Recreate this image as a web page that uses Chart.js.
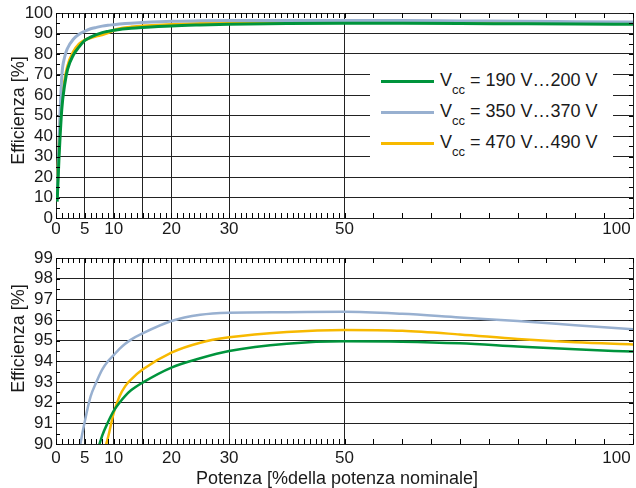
<!DOCTYPE html>
<html><head><meta charset="utf-8">
<script src="https://cdn.jsdelivr.net/npm/chart.js@4/dist/chart.umd.min.js"></script>
<style>
html,body{margin:0;padding:0;background:#fff;overflow:hidden;width:636px;height:488px;}
canvas{position:absolute;left:0;}
#c1{top:0}
#c2{top:244px}
#legend{position:absolute;left:370px;top:57px;width:243px;height:118px;background:#fff;font-family:"Liberation Sans",Arial,Helvetica,sans-serif;font-size:18px;color:#1a1a1a;}
.row{position:absolute;left:0;height:31px;line-height:31px;width:243px;white-space:nowrap;}
.swatch{position:absolute;left:11px;top:15px;width:53px;height:3px;}
.txt{position:absolute;left:70px;top:0;}
.txt sub{font-size:13px;vertical-align:baseline;position:relative;top:8px;}
</style></head><body>
<canvas id="c1" width="636" height="244"></canvas>
<canvas id="c2" width="636" height="244"></canvas>
<div id="legend"></div>
<script>
// ---- data ----
const loadPct    = [0.2, 0.5, 1, 1.5, 2, 3, 4, 5, 6, 7, 8, 9, 10, 11, 12, 13, 15, 20, 25, 30, 40, 50, 60, 70, 80, 90, 100];
const eff190_200 = [8, 28, 53, 65, 72.5, 79.5, 83.5, 86.6, 88.2, 89.45, 90.4, 91.05, 91.6, 92.0, 92.33, 92.6, 92.97, 93.7, 94.15, 94.5, 94.85, 94.97, 94.95, 94.87, 94.72, 94.58, 94.47];
const eff350_370 = [10, 36, 69, 78.5, 82.8, 87.2, 89.6, 91.1, 92.3, 93.0, 93.6, 94.0, 94.3, 94.6, 94.85, 95.05, 95.35, 95.95, 96.25, 96.35, 96.38, 96.4, 96.3, 96.12, 95.95, 95.75, 95.55];
const eff470_490 = [12, 36, 57, 67, 74, 81, 84.8, 86.8, 87.9, 88.7, 89.35, 90.3, 91.5, 92.3, 92.8, 93.12, 93.6, 94.42, 94.9, 95.16, 95.42, 95.52, 95.48, 95.3, 95.08, 94.92, 94.82];
const seriesLabels = ['Vcc = 190 V…200 V', 'Vcc = 350 V…370 V', 'Vcc = 470 V…490 V'];
const seriesColors = ['#00943c', '#98b0d0', '#f7b900'];
const xTickLabels = [0, 5, 10, 20, 30, 50, 100];
const xGridValues = [5, 10, 15, 20, 30, 50];
const xMinorTicks = [0,1,2,3,4,5,6,7,8,9,10,11,12,13,14,15,16,17,18,19,20,21,22,23,24,25,26,27,28,29,30,31,32,33,34,35,36,37,38,39,40,41,42,43,44,45,46,47,48,49,50,55,60,65,70,75,80,85,90,95,100];
const yTopTicks = [0,5,10,15,20,25,30,35,40,45,50,55,60,65,70,75,80,85,90,95,100];
const yBottomTicks = [90,90.5,91,91.5,92,92.5,93,93.5,94,94.5,95,95.5,96,96.5,97,97.5,98,98.5,99];
const yTitle = 'Efficienza [%]';
const xTitle = 'Potenza [%della potenza nominale]';

const FAMILY = '"Liberation Sans", Arial, Helvetica, sans-serif';
const DARK = '#222';
const TEXT = '#1a1a1a';
Chart.defaults.font.family = FAMILY;
Chart.defaults.color = TEXT;

const series = [eff190_200, eff350_370, eff470_490];

function makeDatasets(width) {
  return series.map((arr, i) => ({
    label: seriesLabels[i],
    data: loadPct.map((x, j) => ({x: x, y: arr[j]})),
    borderColor: seriesColors[i],
    backgroundColor: seriesColors[i],
    borderWidth: width,
    pointRadius: 0,
    fill: false,
    cubicInterpolationMode: 'monotone',
    clip: 0
  }));
}

function setTicks(list) {
  return s => { s.ticks = list.map(v => ({value: v})); };
}

function makeScales(c) {
  return {
    x: {
      type: 'linear', min: 0, max: 100, position: 'bottom', weight: 0,
      afterBuildTicks: setTicks(xMinorTicks),
      afterFit: s => { s.height = c.xHeight; s.paddingLeft = 0; s.paddingRight = 0; },
      ticks: {
        autoSkip: false, maxRotation: 0, minRotation: 0, padding: c.xPad,
        font: {size: 17, family: FAMILY}, color: TEXT,
        callback: v => xTickLabels.includes(v) ? (v === 100 ? '100       ' : String(v)) : ''
      },
      grid: {
        color: ctx => (ctx.tick && xGridValues.includes(ctx.tick.value)) ? DARK : 'rgba(0,0,0,0)',
        lineWidth: 1, drawTicks: false
      },
      border: {display: true, color: DARK, width: 1},
      title: c.xTitle ? {display: true, text: xTitle + '   ', font: {size: 18, family: FAMILY}, color: TEXT, padding: {top: 0, bottom: -2}} : {display: false}
    },
    xTop: {
      type: 'linear', min: 0, max: 100, position: 'top', weight: 0,
      afterFit: s => { s.height = 0; s.paddingLeft = 0; s.paddingRight = 0; },
      ticks: {display: false},
      grid: {display: false, drawTicks: false},
      border: {display: true, color: DARK, width: 1}
    },
    y: {
      type: 'linear', min: c.yMin, max: c.yMax, position: 'left', weight: 0,
      afterBuildTicks: setTicks(c.yTicks),
      afterFit: s => { s.width = 56; s.paddingTop = 0; s.paddingBottom = 0; },
      ticks: {
        autoSkip: false, padding: 3, font: {size: 17, family: FAMILY}, color: TEXT,
        callback: v => (Math.abs(v % c.yMajor) < 1e-9) ? String(v) : ''
      },
      grid: {
        color: ctx => (ctx.tick && Math.abs(ctx.tick.value % c.yMajor) < 1e-9 && ctx.tick.value > c.yMin && ctx.tick.value < c.yMax) ? DARK : 'rgba(0,0,0,0)',
        lineWidth: 1, drawTicks: false
      },
      border: {display: true, color: DARK, width: 1},
      title: {display: true, text: c.yTitleText, font: {size: 18, family: FAMILY}, color: TEXT, padding: {top: 8, bottom: 0}}
    },
    yRight: {
      type: 'linear', min: c.yMin, max: c.yMax, position: 'right', weight: 0,
      afterFit: s => { s.width = 0; s.paddingTop = 0; s.paddingBottom = 0; },
      ticks: {display: false},
      grid: {display: false, drawTicks: false},
      border: {display: true, color: DARK, width: 1}
    }
  };
}

// short inward tick marks on all four sides, at the positions of the library's ticks
function makeMinorTicks() {
  return {
    id: 'minorTicks',
    afterDraw(chart) {
      const ctx = chart.ctx;
      const a = chart.chartArea;
      const sx = chart.scales.x;
      const sy = chart.scales.y;
      ctx.save();
      ctx.strokeStyle = '#000';
      ctx.lineWidth = 1;
      ctx.beginPath();
      sx.ticks.forEach(t => {
        const px = Math.round(sx.getPixelForValue(t.value)) + 0.5;
        ctx.moveTo(px, a.bottom); ctx.lineTo(px, a.bottom - 5);
        ctx.moveTo(px, a.top); ctx.lineTo(px, a.top + 5);
      });
      sy.ticks.forEach(t => {
        const py = Math.round(sy.getPixelForValue(t.value)) + 0.5;
        ctx.moveTo(a.left, py); ctx.lineTo(a.left + 4, py);
        ctx.moveTo(a.right, py); ctx.lineTo(a.right - 4, py);
      });
      ctx.stroke();
      ctx.restore();
    }
  };
}

const htmlLegend = {
  id: 'htmlLegend',
  afterUpdate(chart) {
    const box = document.getElementById('legend');
    box.innerHTML = '';
    chart.data.datasets.forEach((ds, i) => {
      const row = document.createElement('div');
      row.className = 'row';
      row.style.top = (8 + 31 * i) + 'px';
      const sw = document.createElement('span');
      sw.className = 'swatch';
      sw.style.background = ds.borderColor;
      const txt = document.createElement('span');
      txt.className = 'txt';
      const m = ds.label.match(/^V(cc)(.*)$/);
      txt.appendChild(document.createTextNode('V'));
      const sub = document.createElement('sub');
      sub.textContent = m[1];
      txt.appendChild(sub);
      txt.appendChild(document.createTextNode(m[2]));
      row.appendChild(sw);
      row.appendChild(txt);
      box.appendChild(row);
    });
  }
};

new Chart(document.getElementById('c1'), {
  type: 'line',
  data: {datasets: makeDatasets(3)},
  options: {
    responsive: false, animation: false, devicePixelRatio: 1,
    layout: {padding: {top: 13, right: 3, left: 0, bottom: 0}},
    plugins: {legend: {display: false}, tooltip: {enabled: false}},
    scales: makeScales({xHeight: 26, xPad: 1, xTitle: false, yMin: 0, yMax: 100, yTicks: yTopTicks, yMajor: 10, yTitleText: '  ' + yTitle})
  },
  plugins: [makeMinorTicks(), htmlLegend]
});

new Chart(document.getElementById('c2'), {
  type: 'line',
  data: {datasets: makeDatasets(2.5)},
  options: {
    responsive: false, animation: false, devicePixelRatio: 1,
    layout: {padding: {top: 14, right: 3, left: 0, bottom: 0}},
    plugins: {legend: {display: false}, tooltip: {enabled: false}},
    scales: makeScales({xHeight: 44, xPad: 4, xTitle: true, yMin: 90, yMax: 99, yTicks: yBottomTicks, yMajor: 1, yTitleText: '     ' + yTitle})
  },
  plugins: [makeMinorTicks()]
});
</script>
</body></html>
